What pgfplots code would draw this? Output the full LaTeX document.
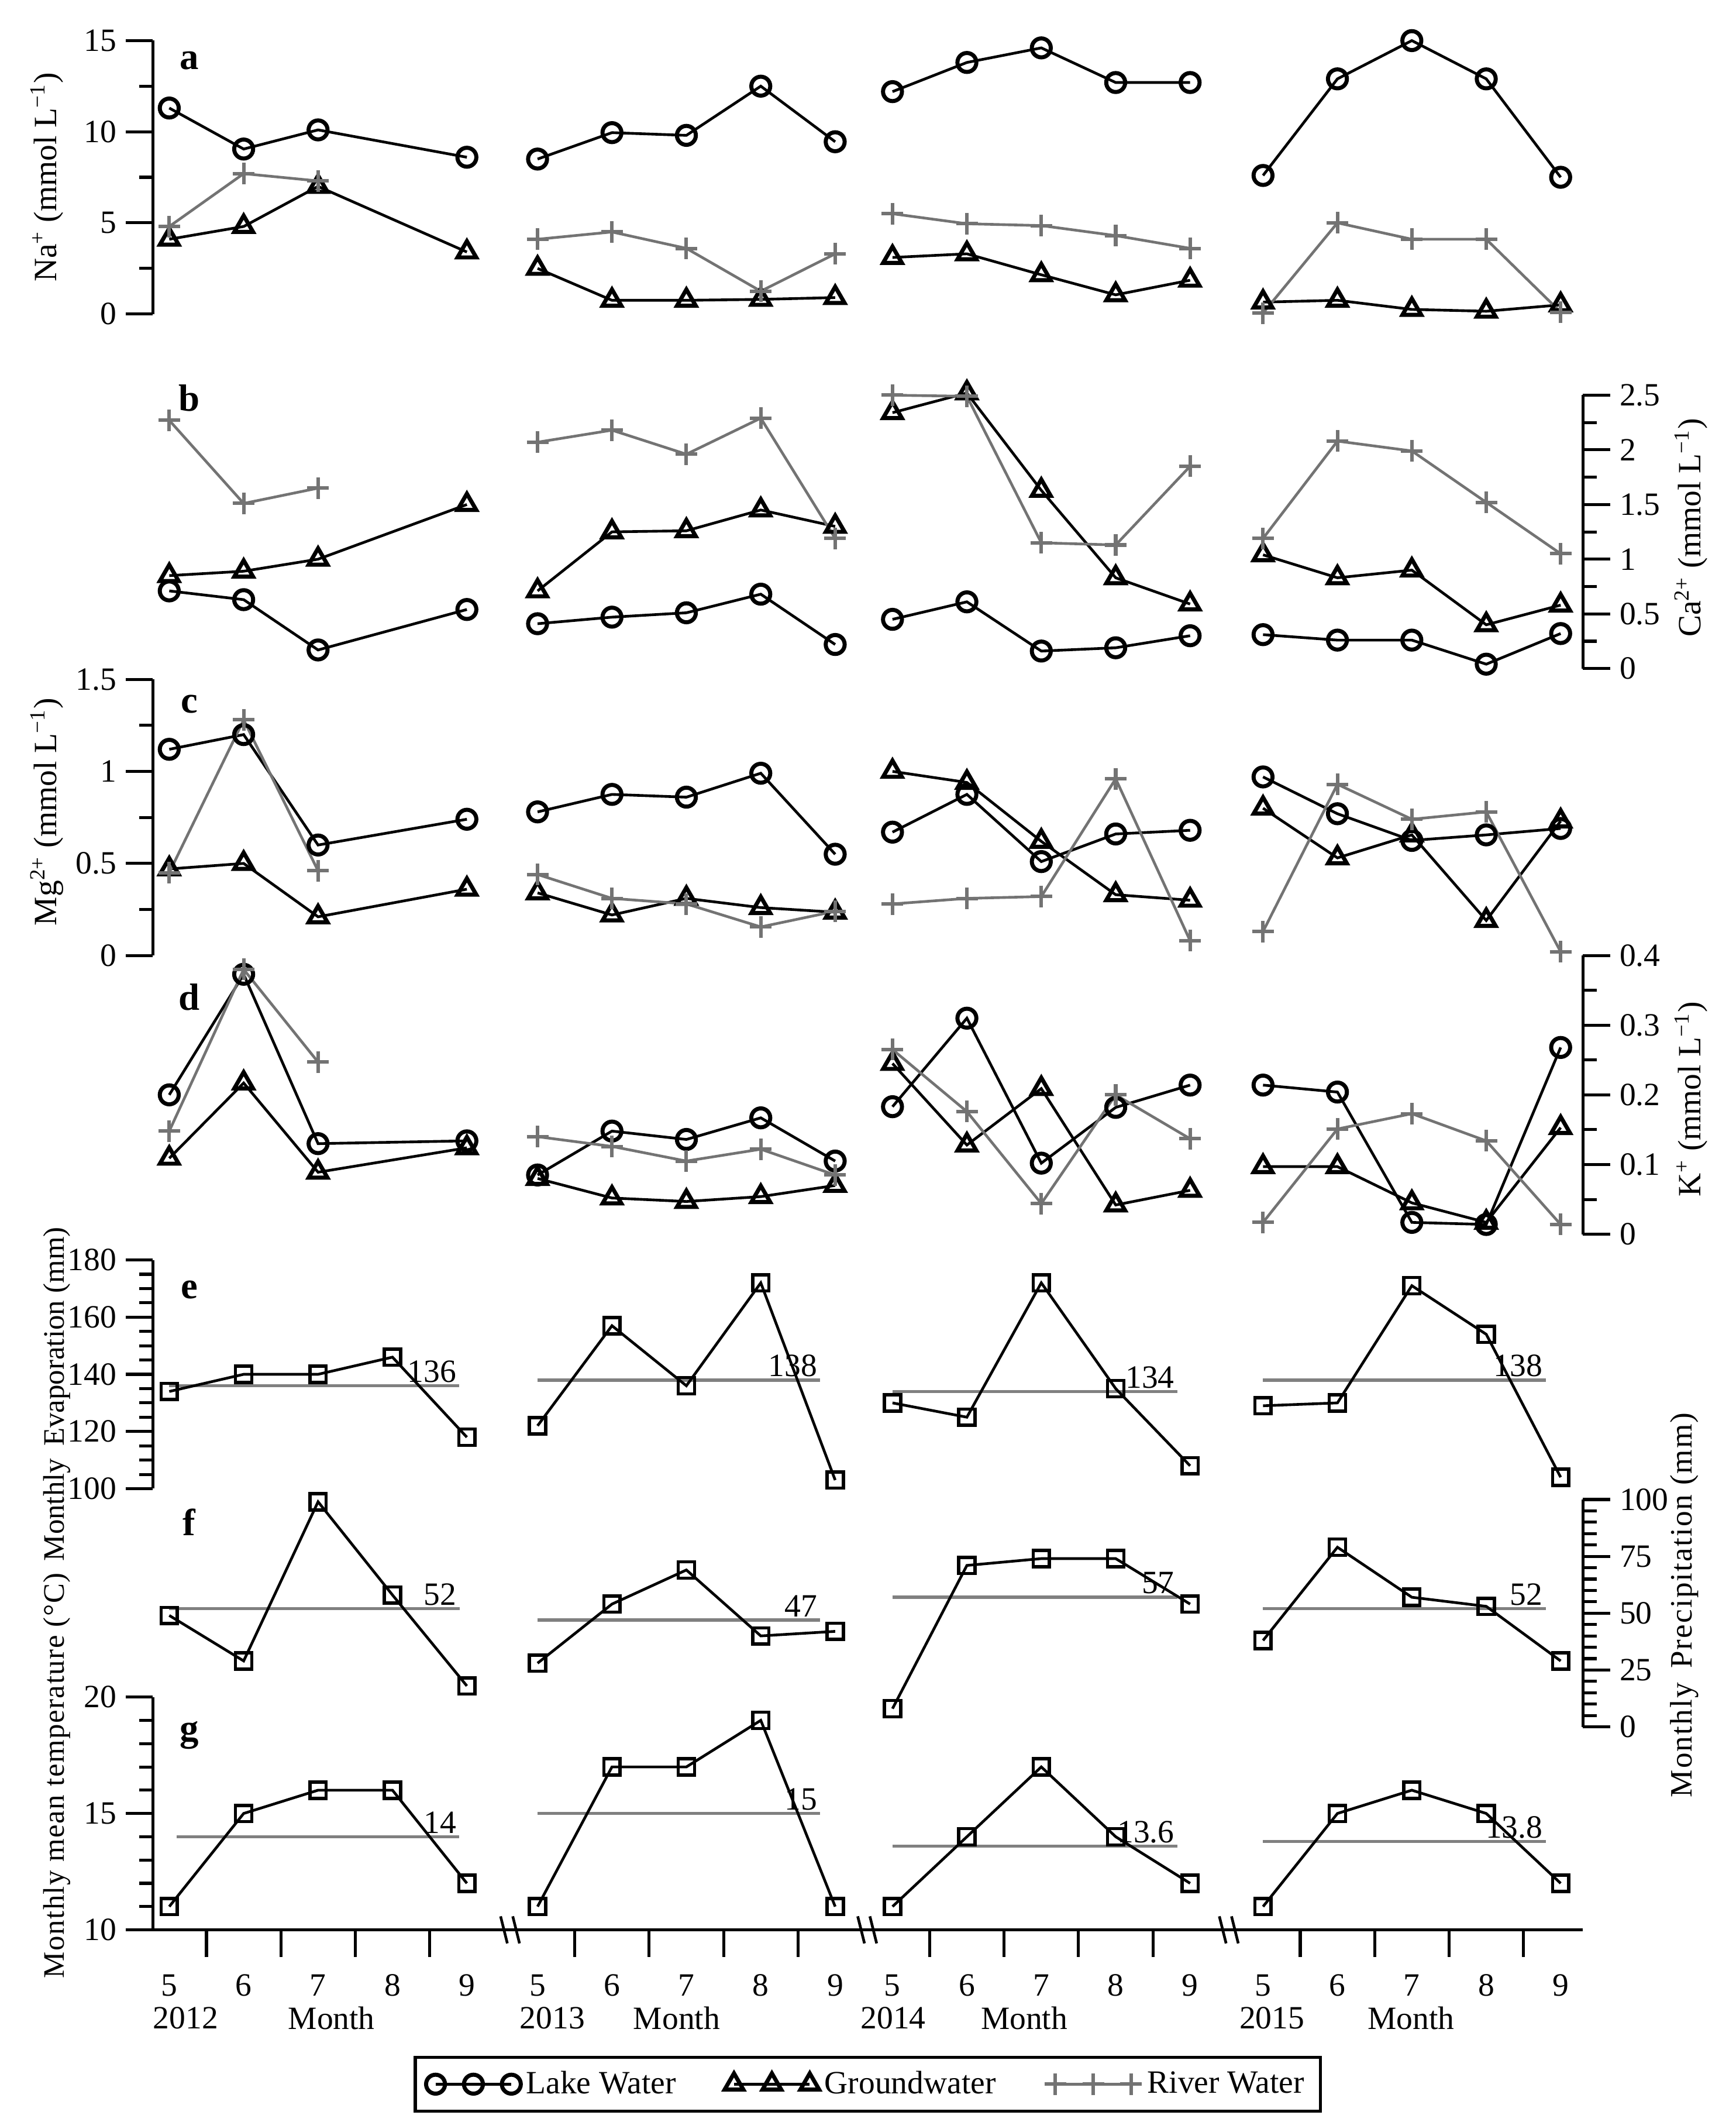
\documentclass[border=0pt]{standalone}
\usepackage{pgfplots}
\pgfplotsset{compat=1.18}
\usepackage{fontspec}
\setmainfont{Liberation Serif}
\newfontfamily\widefont[LetterSpace=4]{Liberation Serif}
\newfontfamily\midfont[LetterSpace=3]{Liberation Serif}
\newcommand\fs{\fontsize{12}{14}\selectfont}
\newcommand\lf{\fontsize{12}{14}\selectfont}
\newcommand\wf{\fontsize{11.5}{13}\widefont}
\newcommand\mf{\fontsize{11}{13}\midfont}
\newcommand\ef{\fontsize{11}{13}\selectfont}
\newcommand\pl{\fontsize{14}{16}\selectfont\bfseries}
\definecolor{rivgray}{gray}{0.45}
\definecolor{meangray}{gray}{0.5}

\pgfplotsset{
  panel/.style={scale only axis, width=528.5pt, xmin=-0.22, xmax=19.0,
    clip=false, anchor=south west,
    tick align=outside, major tick length=10pt, minor tick length=5pt,
    tick style={black, line width=1.1pt}, axis line style={line width=1.2pt},
    tick label style={font=\fs},
    yticklabel={\rmfamily\fs\pgfmathprintnumber[assume math mode=true]{\tick}},
    unbounded coords=jump},
  noxaxis/.style={axis x line=none, xtick=\empty},
  lake/.style={black, line width=1pt, mark=o, mark size=3.5pt, mark options={solid, line width=1.5pt}},
  gw/.style={black, line width=1pt, mark=triangle, mark size=4pt, mark options={solid, line width=1.5pt}},
  river/.style={rivgray, line width=1pt, mark=+, mark size=4pt, mark options={solid, line width=1.3pt}},
  met/.style={black, line width=1pt, mark=square, mark size=3pt, mark options={solid, line width=1.2pt}},
  meanline/.style={meangray, line width=1.2pt, no marks},
}

\begin{document}
\begin{tikzpicture}
\path[use as bounding box] (0,0) rectangle (641.5pt,-784pt);

% a: Na+
\begin{axis}[panel, noxaxis, axis y line*=left, at={(56.5pt,-116pt)}, height=101pt,
  ymin=0, ymax=15, ytick={0,5,10,15}, minor y tick num=1]
\addplot[lake] coordinates {(0,11.3)(1,9.05)(2,10.1)(4,8.6)(4.5,nan)
  (4.95,8.5)(5.95,9.95)(6.95,9.8)(7.95,12.5)(8.95,9.45)(9.3,nan)
  (9.72,12.2)(10.72,13.8)(11.72,14.6)(12.72,12.7)(13.72,12.7)(14.2,nan)
  (14.7,7.6)(15.7,12.9)(16.7,15.0)(17.7,12.9)(18.7,7.5)};
\addplot[gw] coordinates {(0,4.1)(1,4.8)(2,7.0)(4,3.4)(4.5,nan)
  (4.95,2.5)(5.95,0.75)(6.95,0.75)(7.95,0.8)(8.95,0.9)(9.3,nan)
  (9.72,3.1)(10.72,3.3)(11.72,2.15)(12.72,1.05)(13.72,1.85)(14.2,nan)
  (14.7,0.65)(15.7,0.75)(16.7,0.25)(17.7,0.15)(18.7,0.5)};
\addplot[river] coordinates {(0,4.8)(1,7.7)(2,7.3)(4.5,nan)
  (4.95,4.1)(5.95,4.5)(6.95,3.6)(7.95,1.25)(8.95,3.3)(9.3,nan)
  (9.72,5.5)(10.72,4.95)(11.72,4.85)(12.72,4.3)(13.72,3.6)(14.2,nan)
  (14.7,0.05)(15.7,5.0)(16.7,4.1)(17.7,4.1)(18.7,0.1)};
\node[font=\pl] at (rel axis cs:0.0255,0.926) {a};
\node[rotate=90, font=\lf] at (rel axis cs:-0.074,0.5) {Na\textsuperscript{+} (mmol L\textsuperscript{−1})};
\end{axis}

% b: Ca2+
\begin{axis}[panel, noxaxis, axis y line*=right, at={(56.5pt,-247pt)}, height=101pt,
  ymin=0, ymax=2.5, ytick={0,0.5,1,1.5,2,2.5}, minor y tick num=1]
\addplot[lake] coordinates {(0,0.71)(1,0.63)(2,0.17)(4,0.54)(4.5,nan)
  (4.95,0.41)(5.95,0.47)(6.95,0.51)(7.95,0.68)(8.95,0.22)(9.3,nan)
  (9.72,0.45)(10.72,0.61)(11.72,0.16)(12.72,0.19)(13.72,0.30)(14.2,nan)
  (14.7,0.31)(15.7,0.26)(16.7,0.26)(17.7,0.04)(18.7,0.32)};
\addplot[gw] coordinates {(0,0.85)(1,0.89)(2,1.0)(4,1.5)(4.5,nan)
  (4.95,0.71)(5.95,1.25)(6.95,1.26)(7.95,1.45)(8.95,1.3)(9.3,nan)
  (9.72,2.34)(10.72,2.52)(11.72,1.63)(12.72,0.83)(13.72,0.59)(14.2,nan)
  (14.7,1.04)(15.7,0.83)(16.7,0.9)(17.7,0.4)(18.7,0.58)};
\addplot[river] coordinates {(0,2.27)(1,1.51)(2,1.65)(4.5,nan)
  (4.95,2.07)(5.95,2.18)(6.95,1.96)(7.95,2.29)(8.95,1.19)(9.3,nan)
  (9.72,2.5)(10.72,2.49)(11.72,1.15)(12.72,1.13)(13.72,1.85)(14.2,nan)
  (14.7,1.19)(15.7,2.08)(16.7,1.99)(17.7,1.52)(18.7,1.05)};
\node[font=\pl] at (rel axis cs:0.0255,0.99) {b};
\node[rotate=90, font=\lf] at (rel axis cs:1.0757,0.515) {Ca\textsuperscript{2+} (mmol L\textsuperscript{−1})};
\end{axis}

% c: Mg2+
\begin{axis}[panel, noxaxis, axis y line*=left, at={(56.5pt,-353pt)}, height=102pt,
  ymin=0, ymax=1.5, ytick={0,0.5,1,1.5}, minor y tick num=1]
\addplot[lake] coordinates {(0,1.12)(1,1.2)(2,0.6)(4,0.74)(4.5,nan)
  (4.95,0.78)(5.95,0.875)(6.95,0.86)(7.95,0.99)(8.95,0.55)(9.3,nan)
  (9.72,0.67)(10.72,0.875)(11.72,0.51)(12.72,0.66)(13.72,0.68)(14.2,nan)
  (14.7,0.97)(15.7,0.77)(16.7,0.625)(17.7,0.655)(18.7,0.69)};
\addplot[gw] coordinates {(0,0.47)(1,0.5)(2,0.21)(4,0.36)(4.5,nan)
  (4.95,0.34)(5.95,0.22)(6.95,0.31)(7.95,0.26)(8.95,0.235)(9.3,nan)
  (9.72,1.0)(10.72,0.94)(11.72,0.62)(12.72,0.33)(13.72,0.3)(14.2,nan)
  (14.7,0.8)(15.7,0.53)(16.7,0.655)(17.7,0.19)(18.7,0.73)};
\addplot[river] coordinates {(0,0.45)(1,1.28)(2,0.46)(4.5,nan)
  (4.95,0.44)(5.95,0.31)(6.95,0.28)(7.95,0.155)(8.95,0.24)(9.3,nan)
  (9.72,0.28)(10.72,0.31)(11.72,0.32)(12.72,0.96)(13.72,0.08)(14.2,nan)
  (14.7,0.13)(15.7,0.93)(16.7,0.74)(17.7,0.78)(18.7,0.02)};
\node[font=\pl] at (rel axis cs:0.0255,0.91) {c};
\node[rotate=90, font=\lf] at (rel axis cs:-0.074,0.52) {Mg\textsuperscript{2+} (mmol L\textsuperscript{−1})};
\end{axis}

% d: K+
\begin{axis}[panel, noxaxis, axis y line*=right, at={(56.5pt,-456pt)}, height=103pt,
  ymin=0, ymax=0.4, ytick={0,0.1,0.2,0.3,0.4}, minor y tick num=1]
\addplot[lake] coordinates {(0,0.2)(1,0.373)(2,0.13)(4,0.134)(4.5,nan)
  (4.95,0.085)(5.95,0.148)(6.95,0.136)(7.95,0.167)(8.95,0.105)(9.3,nan)
  (9.72,0.183)(10.72,0.31)(11.72,0.102)(12.72,0.182)(13.72,0.214)(14.2,nan)
  (14.7,0.214)(15.7,0.204)(16.7,0.017)(17.7,0.014)(18.7,0.268)};
\addplot[gw] coordinates {(0,0.109)(1,0.217)(2,0.089)(4,0.124)(4.5,nan)
  (4.95,0.08)(5.95,0.052)(6.95,0.047)(7.95,0.054)(8.95,0.07)(9.3,nan)
  (9.72,0.245)(10.72,0.128)(11.72,0.209)(12.72,0.042)(13.72,0.063)(14.2,nan)
  (14.7,0.097)(15.7,0.097)(16.7,0.045)(17.7,0.017)(18.7,0.153)};
\addplot[river] coordinates {(0,0.148)(1,0.38)(2,0.247)(4.5,nan)
  (4.95,0.14)(5.95,0.126)(6.95,0.105)(7.95,0.122)(8.95,0.085)(9.3,nan)
  (9.72,0.265)(10.72,0.176)(11.72,0.044)(12.72,0.2)(13.72,0.137)(14.2,nan)
  (14.7,0.017)(15.7,0.151)(16.7,0.173)(17.7,0.134)(18.7,0.014)};
\node[font=\pl] at (rel axis cs:0.0255,0.85) {d};
\node[rotate=90, font=\lf] at (rel axis cs:1.0757,0.485) {K\textsuperscript{+} (mmol L\textsuperscript{−1})};
\end{axis}

% e: evaporation
\begin{axis}[panel, noxaxis, axis y line*=left, at={(56.5pt,-550pt)}, height=84.5pt,
  ymin=100, ymax=180, ytick={100,120,140,160,180}, minor y tick num=3]
\addplot[meanline] coordinates {(0,136)(3.9,136)(4.5,nan)(4.95,138)(8.75,138)(9.3,nan)
  (9.72,134)(13.55,134)(14.2,nan)(14.7,138)(18.5,138)};
\addplot[met] coordinates {(0,134)(1,140)(2,140)(3,146)(4,118)(4.5,nan)
  (4.95,122)(5.95,157)(6.95,136)(7.95,172)(8.95,103)(9.3,nan)
  (9.72,130)(10.72,125)(11.72,172)(12.72,135)(13.72,108)(14.2,nan)
  (14.7,129)(15.7,130)(16.7,171)(17.7,154)(18.7,104)};
\node[font=\fs, anchor=south east, inner sep=1pt] at (axis cs:3.9,136) {136};
\node[font=\fs, anchor=south east, inner sep=1pt] at (axis cs:8.75,138) {138};
\node[font=\fs, anchor=south east, inner sep=1pt] at (axis cs:13.55,134) {134};
\node[font=\fs, anchor=south east, inner sep=1pt] at (axis cs:18.5,138) {138};
\node[font=\pl] at (rel axis cs:0.0255,0.87) {e};
\node[rotate=90, font=\ef] at (rel axis cs:-0.067,0.414) {Monthly\, Evaporation (mm)};
\end{axis}

% f: precipitation
\begin{axis}[panel, noxaxis, axis y line*=right, at={(56.5pt,-638pt)}, height=84pt,
  ymin=0, ymax=100, ytick={0,25,50,75,100}, minor y tick num=4]
\addplot[meanline] coordinates {(0,52)(3.9,52)(4.5,nan)(4.95,47)(8.75,47)(9.3,nan)
  (9.72,57)(13.55,57)(14.2,nan)(14.7,52)(18.5,52)};
\addplot[met] coordinates {(0,49)(1,29)(2,99)(3,58)(4,18)(4.5,nan)
  (4.95,28)(5.95,54)(6.95,69)(7.95,40)(8.95,42)(9.3,nan)
  (9.72,8)(10.72,71)(11.72,74)(12.72,74)(13.72,54)(14.2,nan)
  (14.7,38)(15.7,79)(16.7,57)(17.7,53)(18.7,29)};
\node[font=\fs, anchor=south east, inner sep=1pt] at (axis cs:3.9,52) {52};
\node[font=\fs, anchor=south east, inner sep=1pt] at (axis cs:8.75,47) {47};
\node[font=\fs, anchor=south east, inner sep=1pt] at (axis cs:13.55,57) {57};
\node[font=\fs, anchor=south east, inner sep=1pt] at (axis cs:18.5,52) {52};
\node[font=\pl] at (rel axis cs:0.0255,0.9) {f};
\node[rotate=90, font=\wf] at (rel axis cs:1.071,0.536) {Monthly\, Precipitation (mm)};
\end{axis}

% g: temperature
\begin{axis}[panel, axis y line*=left, axis x line*=bottom, at={(56.5pt,-713pt)}, height=86pt,
  ymin=10, ymax=20, ytick={10,15,20}, minor y tick num=4,
  xtick={0.5,1.5,2.5,3.5,5.45,6.45,7.45,8.45,10.22,11.22,12.22,13.22,15.2,16.2,17.2,18.2},
  xticklabels={},
  extra x ticks={0,1,2,3,4,4.95,5.95,6.95,7.95,8.95,9.72,10.72,11.72,12.72,13.72,14.7,15.7,16.7,17.7,18.7},
  extra x tick labels={5,6,7,8,9,5,6,7,8,9,5,6,7,8,9,5,6,7,8,9},
  extra x tick style={major tick length=0pt, tick label style={yshift=-13pt}},
  legend style={at={(0.5,-0.663)}, anchor=center, draw=black, line width=1.1pt,
    legend columns=3, font=\fs, inner xsep=4pt, inner ysep=3pt,
    /tikz/every even column/.append style={column sep=16pt}},
  legend image code/.code={\draw[#1] plot coordinates {(0pt,0pt) (14pt,0pt) (28pt,0pt)};}]
\addlegendimage{lake}\addlegendentry{Lake Water}
\addlegendimage{gw}\addlegendentry{Groundwater}
\addlegendimage{river}\addlegendentry{River Water}
\addplot[meanline, forget plot] coordinates {(0.1,14)(3.9,14)(4.5,nan)(4.95,15)(8.75,15)(9.3,nan)
  (9.72,13.6)(13.55,13.6)(14.2,nan)(14.7,13.8)(18.5,13.8)};
\addplot[met, forget plot] coordinates {(0,11)(1,15)(2,16)(3,16)(4,12)(4.5,nan)
  (4.95,11)(5.95,17)(6.95,17)(7.95,19)(8.95,11)(9.3,nan)
  (9.72,11)(10.72,14)(11.72,17)(12.72,14)(13.72,12)(14.2,nan)
  (14.7,11)(15.7,15)(16.7,16)(17.7,15)(18.7,12)};
\node[font=\fs, anchor=south east, inner sep=1pt] at (axis cs:3.9,14) {14};
\node[font=\fs, anchor=south east, inner sep=1pt] at (axis cs:8.75,15) {15};
\node[font=\fs, anchor=south east, inner sep=1pt] at (axis cs:13.55,13.6) {13.6};
\node[font=\fs, anchor=south east, inner sep=1pt] at (axis cs:18.5,13.8) {13.8};
\node[font=\pl] at (rel axis cs:0.0255,0.837) {g};
\node[rotate=90, font=\mf] at (rel axis cs:-0.067,0.663) {Monthly mean temperature (°C)};
\node[font=\fs] at (axis cs:0.22,6.2) {2012};
\node[font=\fs] at (axis cs:2.18,6.2) {Month};
\node[font=\fs] at (axis cs:5.15,6.2) {2013};
\node[font=\fs] at (axis cs:6.82,6.2) {Month};
\node[font=\fs] at (axis cs:9.73,6.2) {2014};
\node[font=\fs] at (axis cs:11.49,6.2) {Month};
\node[font=\fs] at (axis cs:14.82,6.2) {2015};
\node[font=\fs] at (axis cs:16.69,6.2) {Month};
\draw[line width=1pt] ([xshift=-3.5pt,yshift=5pt]axis cs:4.58,10) -- ([xshift=-1pt,yshift=-5pt]axis cs:4.58,10);
\draw[line width=1pt] ([xshift=1pt,yshift=5pt]axis cs:4.58,10) -- ([xshift=3.5pt,yshift=-5pt]axis cs:4.58,10);
\draw[line width=1pt] ([xshift=-3.5pt,yshift=5pt]axis cs:9.38,10) -- ([xshift=-1pt,yshift=-5pt]axis cs:9.38,10);
\draw[line width=1pt] ([xshift=1pt,yshift=5pt]axis cs:9.38,10) -- ([xshift=3.5pt,yshift=-5pt]axis cs:9.38,10);
\draw[line width=1pt] ([xshift=-3.5pt,yshift=5pt]axis cs:14.24,10) -- ([xshift=-1pt,yshift=-5pt]axis cs:14.24,10);
\draw[line width=1pt] ([xshift=1pt,yshift=5pt]axis cs:14.24,10) -- ([xshift=3.5pt,yshift=-5pt]axis cs:14.24,10);
\end{axis}
\end{tikzpicture}
\end{document}
